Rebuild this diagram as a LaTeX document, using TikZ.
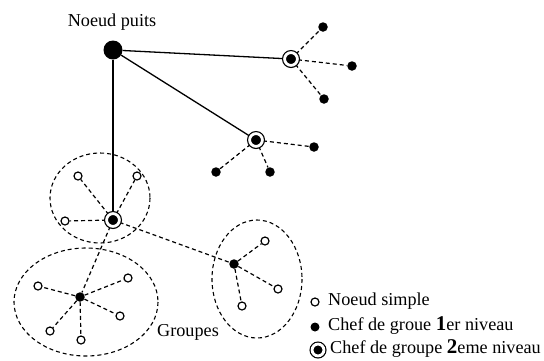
\documentclass[tikz,border=0pt]{standalone}
\usepackage{fontspec}
\setmainfont{Liberation Serif}
\usetikzlibrary{backgrounds}
\begin{document}
\begin{tikzpicture}[x=1pt,y=-1pt,
  font=\fontsize{18.2}{21}\selectfont,
  simple/.style={circle, draw, fill=white, line width=1.2pt, minimum size=8pt, inner sep=0pt},
  head1/.style={circle, fill=black, minimum size=9.5pt, inner sep=0pt},
  % black dot inside a thin ring: a doubled outline over a black fill
  head2/.style={circle, draw, fill=black, line width=1.2pt, double=white, double distance=2.8pt,
    minimum size=12.8pt, inner sep=0pt},
  sink/.style={circle, fill=black, minimum size=19pt, inner sep=0pt},
  link/.style={line width=1.3pt},
  dlink/.style={line width=1.2pt, dash pattern=on 4pt off 3pt},
  group/.style={line width=1.1pt, dash pattern=on 4pt off 3pt},
  lbl/.style={inner sep=0pt}]
\useasboundingbox (0,0) rectangle (544,360);

% sink
\node[sink] (s) at (113,50) {};
\node[lbl] (st) at (112,22) {Noeud puits};

% level-2 heads
\node[head2] (a) at (291,59) {};
\node[head2] (b) at (256,140) {};
\node[head2] (c) at (113,220) {};

% level-1 heads
\node[head1] (d) at (80,297) {};
\node[head1] (e) at (234,264) {};

% members of the top-right head
\node[head1] (a1) at (323,27) {};
\node[head1] (a2) at (352,66) {};
\node[head1] (a3) at (324,99) {};
% members of the middle head
\node[head1] (b1) at (216,172) {};
\node[head1] (b2) at (270,172) {};
\node[head1] (b3) at (314,147) {};
% simple nodes of the first group
\node[simple] (c1) at (78,176) {};
\node[simple] (c2) at (137,176) {};
\node[simple] (c3) at (65,221) {};
% simple nodes of the second group
\node[simple] (d1) at (38,286) {};
\node[simple] (d2) at (128,278) {};
\node[simple] (d3) at (120,316) {};
\node[simple] (d4) at (50,331) {};
\node[simple] (d5) at (81,340) {};
% simple nodes of the third group
\node[simple] (e1) at (265,241) {};
\node[simple] (e2) at (278,289) {};
\node[simple] (e3) at (242,306) {};

\begin{scope}[on background layer]
% group outlines
\draw[group] (100,198) ellipse [x radius=50, y radius=45];
\draw[group] (86,302) ellipse [x radius=72, y radius=54];
\draw[group] (257,279) ellipse [x radius=45, y radius=59];

% links to the sink
\draw[link] (s) -- (a);
\draw[link] (s) -- (b);
\draw[link] (s) -- (c);

% dashed links
\foreach \m in {a1,a2,a3} \draw[dlink] (a) -- (\m);
\foreach \m in {b1,b2,b3} \draw[dlink] (b) -- (\m);
\foreach \m in {c1,c2,c3,d,e} \draw[dlink] (c) -- (\m);
\foreach \m in {d1,d2,d3,d4,d5} \draw[dlink] (d) -- (\m);
\foreach \m in {e1,e2,e3} \draw[dlink] (e) -- (\m);
\end{scope}

\node[lbl] (gt) at (188,332) {Groupes};

% legend
\node[simple] (l1) at (315,302) {};
\node[head1, minimum size=9pt] (l2) at (315,327) {};
\node[head2, minimum size=11.8pt] (l3) at (318,350) {};
\node[lbl, anchor=west] (t1) at (328,301) {Noeud simple};
\node[lbl, anchor=west] (t2) at (328,325.5) {Chef de groue {\fontsize{21}{21}\selectfont\bfseries 1}er niveau};
\node[lbl, anchor=west] (t3) at (330,349) {Chef de groupe {\fontsize{21}{21}\selectfont\bfseries 2}eme niveau};
\end{tikzpicture}
\end{document}
